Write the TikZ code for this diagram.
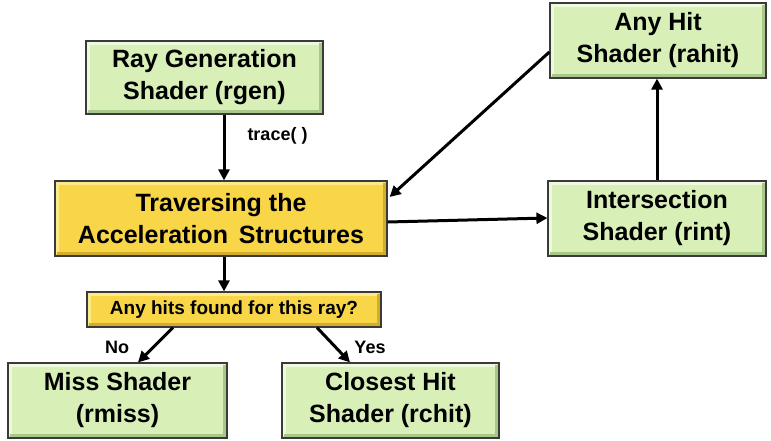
\documentclass[tikz,border=0pt]{standalone}
\usepackage{fontspec}
\setmainfont{Liberation Sans}
\usetikzlibrary{arrows.meta,calc}

\definecolor{boxgreen}{HTML}{D8F0B8}
\definecolor{greenlight}{HTML}{EEFADF}
\definecolor{greendark}{HTML}{A8C88A}
\definecolor{boxyellow}{HTML}{F8D648}
\definecolor{yellowlight}{HTML}{FCE98A}
\definecolor{yellowdark}{HTML}{D2AE2A}
\definecolor{edgegray}{HTML}{3A3A3A}

\tikzset{
  bevelbox/.style n args={3}{
    draw=edgegray, line width=1.2pt, fill=#1,
    inner sep=0pt, align=center,
    font=\fontsize{25}{32}\selectfont\bfseries,
    path picture={
      \draw[#2, line width=4pt]
        ([xshift=2pt,yshift=2pt]path picture bounding box.south west) --
        ([xshift=2pt,yshift=-2pt]path picture bounding box.north west) --
        ([xshift=-2pt,yshift=-2pt]path picture bounding box.north east);
      \draw[#3, line width=4pt]
        ([xshift=-2pt,yshift=-2pt]path picture bounding box.north east) --
        ([xshift=-2pt,yshift=2pt]path picture bounding box.south east) --
        ([xshift=2pt,yshift=2pt]path picture bounding box.south west);
    }
  },
  shaderbox/.style={bevelbox={boxgreen}{greenlight}{greendark}},
  travbox/.style={bevelbox={boxyellow}{yellowlight}{yellowdark}},
  flow/.style={line width=3pt, -{Triangle[length=11pt,width=11pt]}},
  edgelabel/.style={font=\fontsize{18}{20}\selectfont\bfseries, inner sep=0pt}
}

\begin{document}
\begin{tikzpicture}[x=1pt,y=-1pt]
  \useasboundingbox (0,0) rectangle (771,441);

  % shader stages and traversal
  \node[shaderbox, minimum width=237pt, minimum height=73pt] (rgen) at (204.5,77.5)
    {Ray Generation\\Shader (rgen)};
  \node[travbox, minimum width=332pt, minimum height=75pt] (trav) at (221,218.5)
    {Traversing the\\Acceleration\hspace{4pt} Structures};
  \node[travbox, minimum width=294pt, minimum height=35pt,
        font=\fontsize{19}{22}\selectfont\bfseries] (hits) at (234,309.5)
    {Any hits found for this ray?};
  \node[shaderbox, minimum width=219pt, minimum height=75pt] (miss) at (117.5,400.5)
    {Miss Shader\\(rmiss)};
  \node[shaderbox, minimum width=217pt, minimum height=75pt] (chit) at (390.5,400.5)
    {Closest Hit\\Shader (rchit)};
  \node[shaderbox, minimum width=216pt, minimum height=75pt] (ahit) at (658,40.5)
    {Any Hit\\Shader (rahit)};
  \node[shaderbox, minimum width=218pt, minimum height=75pt] (rint) at (657,218.5)
    {Intersection\\Shader (rint)};

  % connectors
  \draw[flow] ([xshift=19.5pt]rgen.south) -- ([xshift=3pt]trav.north)
    node[edgelabel, pos=0.33, right=22pt] {trace( )};
  \draw[flow] ([yshift=-3.5pt]trav.east) -- ([yshift=0.5pt]rint.west);
  \draw[flow] ([yshift=-11.5pt]ahit.west) -- ([xshift=2pt,yshift=21.5pt]trav.east);
  \draw[flow] (rint.north) -- ([xshift=-1pt]ahit.south);
  \draw[flow] ([xshift=3pt]trav.south) -- ([xshift=-10pt]hits.north);
  \draw[flow] ([xshift=-61pt]hits.south) -- ([xshift=20.5pt]miss.north);
  \draw[flow] ([xshift=83pt]hits.south) -- ([xshift=-40.5pt]chit.north);

  % branch labels
  \coordinate (nolabel) at (117,347);
  \coordinate (yeslabel) at (370,347);
  \node[edgelabel] (no) at (nolabel) {No};
  \node[edgelabel] (yes) at (yeslabel) {Yes};
\end{tikzpicture}
\end{document}
